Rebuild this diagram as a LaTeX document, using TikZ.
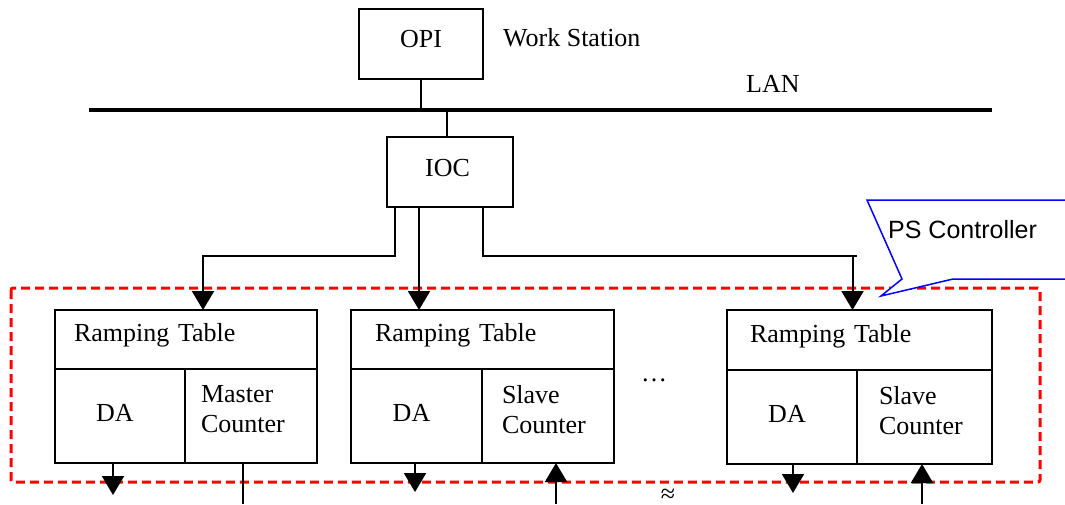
\documentclass[tikz,border=0pt]{standalone}
\usepackage{fontspec}
\setmainfont{Liberation Serif}
\setsansfont{Liberation Sans}
\usetikzlibrary{arrows.meta}

\tikzset{
	box/.style={draw, line width=2pt, inner sep=0pt, outer sep=0pt},
	cell/.style={draw, line width=2pt, inner sep=0pt, outer sep=0pt, anchor=north west},
	wire/.style={line width=2pt},
	arr/.style={wire, -{Triangle[width=22pt,length=19pt]}},
	txt/.style={inner sep=0pt}
}

\begin{document}
\begin{tikzpicture}[x=1pt,y=-1pt,font=\fontsize{26}{30}\selectfont]
	\useasboundingbox (0,0) rectangle (1065,504);
	\clip (0,0) rectangle (1065,504);
	% work station and LAN
	\node[box, minimum width=124, minimum height=70, text depth=10pt] (opi) at (421,44){OPI};
	\node[txt, anchor=base west] (ws) at (503,46){Work Station};
	\coordinate (lanL) at (89,110);
	\coordinate (lanR) at (992,110);
	\draw[line width=4pt] (lanL)--(lanR);
	\node[txt, anchor=base west] (lan) at (746,92){LAN};
	\draw[wire] (opi.south)--(opi.south |- lanL);
	% IOC
	\node[box, minimum width=126, minimum height=70, text depth=9pt] (ioc) at (450,172){IOC\kern5pt};
	\draw[wire] ([xshift=-3]ioc.north)--([xshift=-3]ioc.north |- lanL);
	% PS controller frame
	\draw[red, line width=3pt, dash pattern=on 9pt off 5pt, rounded corners=2pt] (11,288) rectangle (1040,482);
	% first controller
	\node[cell, minimum width=262, minimum height=59, text width=224, align=left, inner xsep=19, text depth=14pt] (rt1) at (55,310){Ramping Table};
	\node[cell, minimum width=130, minimum height=94, text depth=6pt] (da1) at (rt1.south west){DA\kern10pt};
	\node[cell, minimum width=132, minimum height=94, text width=100, align=left, inner xsep=16, text depth=44pt] (mc1) at (da1.north east){Master\\Counter};
	% second controller
	\node[cell, minimum width=263, minimum height=59, text width=215, align=left, inner xsep=24, text depth=14pt] (rt2) at (351,310){Ramping Table};
	\node[cell, minimum width=131, minimum height=94, text depth=6pt] (da2) at (rt2.south west){DA\kern10pt};
	\node[cell, minimum width=132, minimum height=94, text width=92, align=left, inner xsep=20, text depth=44pt] (sc2) at (da2.north east){Slave\\Counter};
	% third controller
	\node[cell, minimum width=265, minimum height=60, text width=219, align=left, inner xsep=23, text depth=14pt] (rt3) at (727,310){Ramping Table};
	\node[cell, minimum width=130, minimum height=94, text depth=6pt] (da3) at (rt3.south west){DA\kern10pt};
	\node[cell, minimum width=135, minimum height=94, text width=91, align=left, inner xsep=22, text depth=44pt] (sc3) at (da3.north east){Slave\\Counter};
	\node[txt, anchor=base] (dots) at (654,381){\ldots};
	\node[txt, anchor=base] (approx) at (668,502){≈};
	% IOC to controllers
	\draw[arr] ([xshift=-55]ioc.south)--++(0,49) -| ([xshift=17]rt1.north);
	\draw[arr] ([xshift=-31]ioc.south)--([xshift=-31]ioc.south |- rt2.north);
	\draw[wire] ([xshift=33]ioc.south)--++(0,49) -- ([xshift=-3]rt3.north |- 0,256);
	\draw[arr] ([xshift=-7]rt3.north |- 0,256)--([xshift=-7]rt3.north);
	% outputs and inputs
	\coordinate (out1) at (113,495);
	\coordinate (out2) at (415,492);
	\coordinate (out3) at (793,493);
	\coordinate (in1) at (243,504);
	\coordinate (in2) at (556,504);
	\coordinate (in3) at (922,504);
	\draw[arr] (da1.south -| out1)--(out1);
	\draw[arr] (da2.south -| out2)--(out2);
	\draw[arr] (da3.south -| out3)--(out3);
	\draw[wire] (mc1.south -| in1)--(in1);
	\draw[arr] (in2)--(in2 |- sc2.south);
	\draw[arr] (in3)--(in3 |- sc3.south);
	% callout
	\draw[blue, line width=1.5pt, fill=white] (867,200)--(1070,200)--(1070,279)--(953,279)--(881,296)--(902,279)--cycle;
	\node[txt, anchor=west, font=\sffamily\fontsize{25}{30}\selectfont] (psc) at (888,230){PS Controller};
\end{tikzpicture}
\end{document}
